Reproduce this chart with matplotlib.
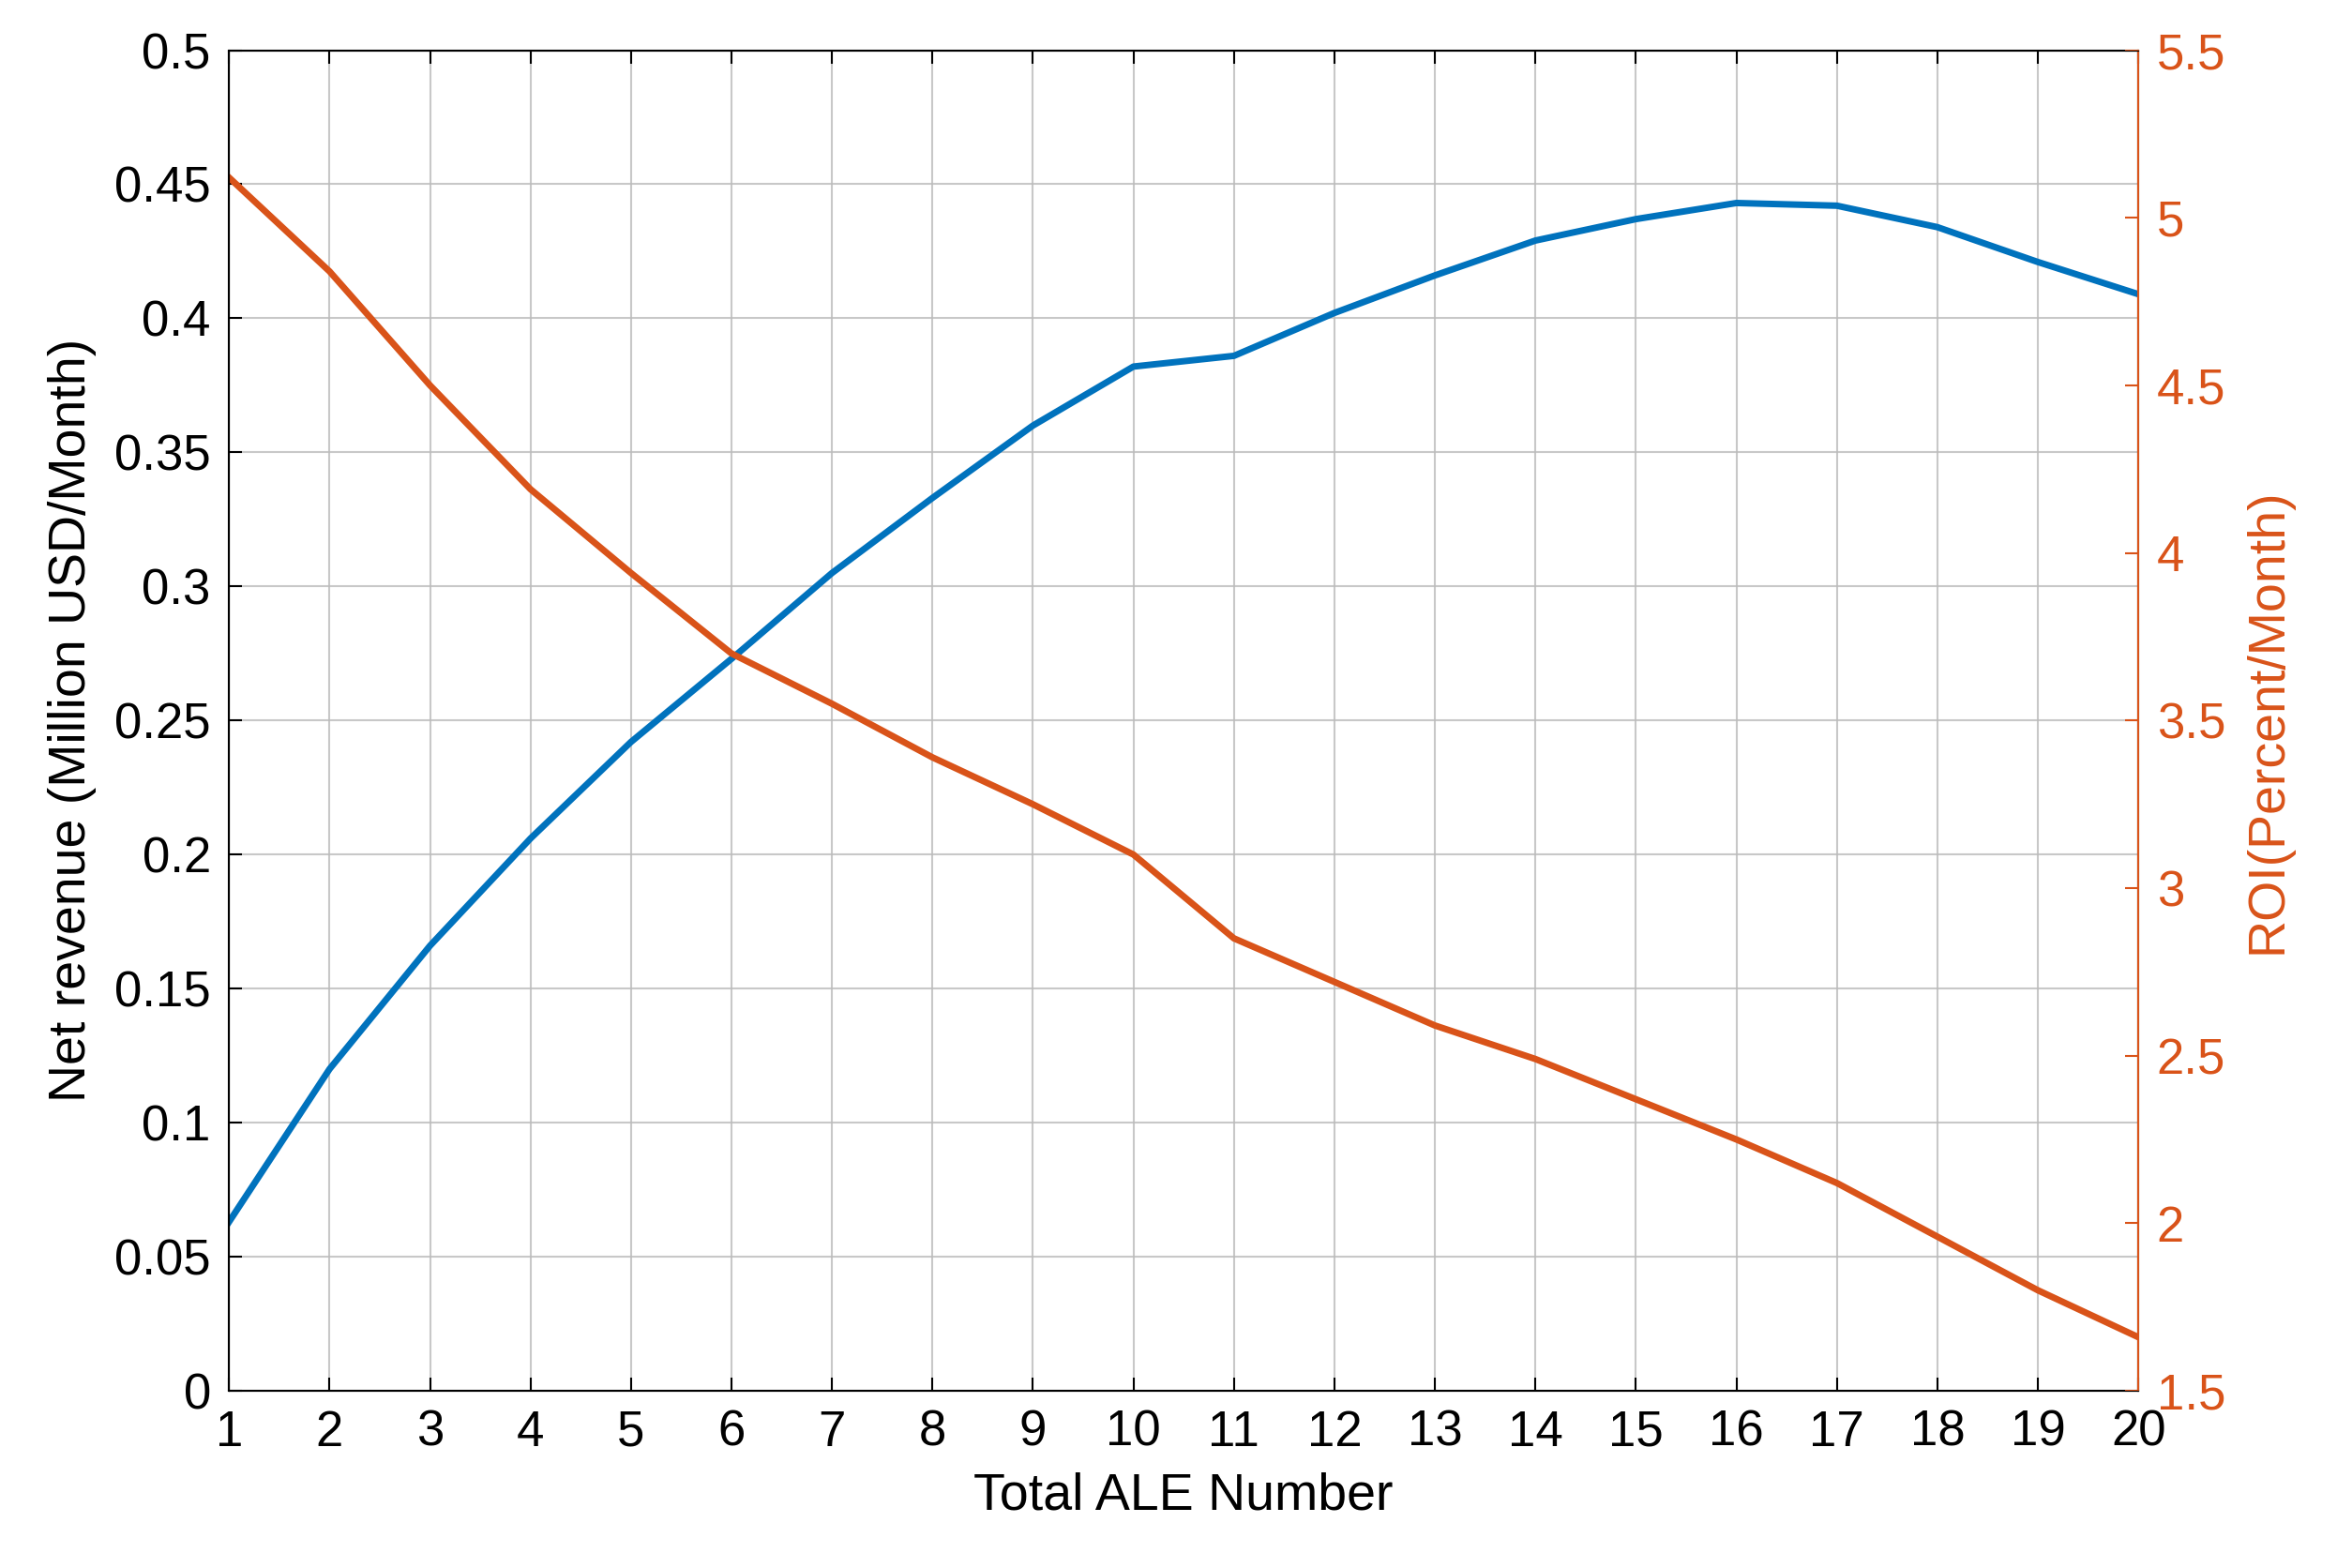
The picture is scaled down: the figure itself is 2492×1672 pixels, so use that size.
import matplotlib.pyplot as plt

ale = list(range(1, 21))
net_revenue = [0.063, 0.120, 0.166, 0.206, 0.242, 0.273, 0.305, 0.333, 0.360, 0.382,
               0.386, 0.402, 0.416, 0.429, 0.437, 0.443, 0.442, 0.434, 0.421, 0.409]
roi = [5.12, 4.84, 4.50, 4.19, 3.94, 3.70, 3.55, 3.39, 3.25, 3.10,
       2.85, 2.72, 2.59, 2.49, 2.37, 2.25, 2.12, 1.96, 1.80, 1.66]

blue = "#0072BD"
orange = "#D95319"
plt.rcParams["font.family"] = ["Arial", "Liberation Sans", "DejaVu Sans"]

fig = plt.figure(figsize=(24.92, 16.72), dpi=100)
ax = fig.add_axes([0.098, 0.113, 0.817, 0.855])
ax.plot(ale, net_revenue, color=blue, lw=5)
ax.set_xlim(1, 20)
ax.set_ylim(0, 0.5)
ax.set_xticks(ale)
ax.set_yticks([i * 0.05 for i in range(11)])
ax.set_yticklabels(["0", "0.05", "0.1", "0.15", "0.2", "0.25", "0.3", "0.35", "0.4", "0.45", "0.5"])
ax.grid(True, color="#bbbbbb", lw=1.5, alpha=0.8)
ax.tick_params(direction="in", labelsize=38, length=10, width=1.5, top=True, pad=14)
ax.set_xlabel("Total ALE Number", fontsize=40, labelpad=12)
ax.set_ylabel("Net revenue (Million USD/Month)", fontsize=40, labelpad=14)
for s in ax.spines.values():
    s.set_linewidth(1.5)

ax2 = ax.twinx()
ax2.plot(ale, roi, color=orange, lw=5)
ax2.set_ylim(1.5, 5.5)
ax2.set_yticks([1.5, 2, 2.5, 3, 3.5, 4, 4.5, 5, 5.5])
ax2.set_yticklabels(["1.5", "2", "2.5", "3", "3.5", "4", "4.5", "5", "5.5"])
ax2.tick_params(direction="in", labelsize=38, length=10, width=1.5, colors=orange, pad=14)
ax2.spines["right"].set_color(orange)
ax2.spines["right"].set_linewidth(1.5)
ax2.set_ylabel("ROI(Percent/Month)", fontsize=40, color=orange, labelpad=14)

fig.savefig("out.png", dpi=100)
